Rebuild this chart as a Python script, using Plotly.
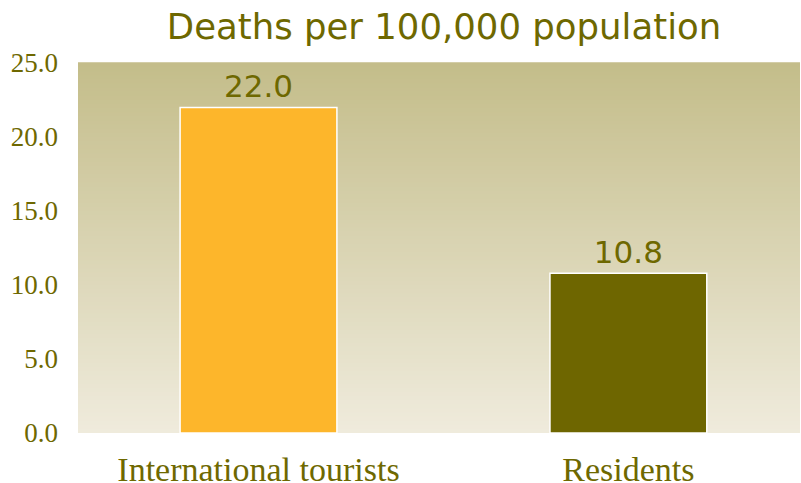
import plotly.graph_objects as go

categories = ["International tourists", "Residents"]
values = [22.0, 10.8]
value_labels = ["22.0", "10.8"]
bar_colors = ["#fdb62b", "#6e6600"]
y_ticks = [0, 5, 10, 15, 20, 25]
y_tick_labels = ["0.0", "5.0", "10.0", "15.0", "20.0", "25.0"]

text_color = "#6e6800"

fig = go.Figure()
fig.add_trace(go.Bar(
    x=[0, 1], y=values,
    width=0.424,
    marker=dict(color=bar_colors, line=dict(color="white", width=1.5)),
    text=value_labels, textposition="outside", cliponaxis=False,
    textfont=dict(family="DejaVu Sans", size=31, color=text_color),
    hoverinfo="skip",
))

# vertical gradient background of the plot area
top = (196, 189, 138)
bot = (239, 235, 220)
n = 90
shapes = []
for i in range(n):
    t = i / (n - 1)
    c = tuple(round(bot[k] + (top[k] - bot[k]) * t) for k in range(3))
    shapes.append(dict(
        type="rect", xref="paper", yref="y domain", layer="below",
        x0=0, x1=1, y0=i / n, y1=(i + 1) / n + 0.002,
        fillcolor="rgb(%d,%d,%d)" % c, line=dict(width=0),
    ))

fig.update_layout(
    template="none",
    width=801, height=483,
    margin=dict(l=78, r=1, t=63, b=50, autoexpand=False),
    paper_bgcolor="white", plot_bgcolor="rgba(0,0,0,0)",
    shapes=shapes,
    showlegend=False,
    title=dict(text="Deaths per 100,000 population",
               font=dict(family="DejaVu Sans", size=35.5, color=text_color),
               x=0.507, xref="paper", xanchor="center",
               y=1 - 27 / 483, yref="container", yanchor="middle"),
    xaxis=dict(range=[-0.488, 1.464], tickvals=[0, 1], ticktext=categories,
               automargin=False,
               showgrid=False, zeroline=False, showline=False, ticks="",
               tickfont=dict(family="Liberation Serif", size=34, color=text_color),
               ticklabelstandoff=13),
    yaxis=dict(range=[0, 25], tickvals=y_ticks, ticktext=y_tick_labels,
               automargin=False,
               showgrid=False, zeroline=False, showline=False, ticks="",
               tickfont=dict(family="Liberation Serif", size=27, color=text_color),
               ticklabelstandoff=19),
)

fig.write_html("out.html",
               config={"displayModeBar": False},
               post_script="document.body.style.margin='0';document.body.style.overflow='hidden';")
